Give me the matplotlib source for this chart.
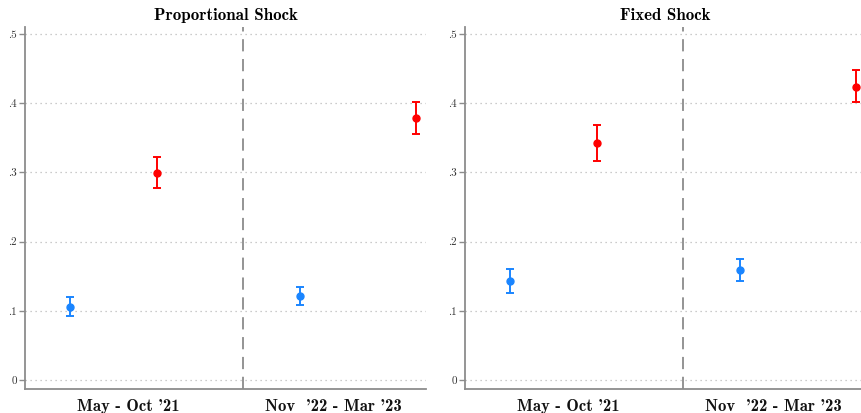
import matplotlib.pyplot as plt
import numpy as np

# estimates
panels = ['Proportional Shock', 'Fixed Shock']
periods = ['May - Oct \'21', 'Nov  \'22 - Mar \'23']

blue_est = [[0.106, 0.121], [0.143, 0.159]]
blue_lo = [[0.092, 0.109], [0.126, 0.143]]
blue_hi = [[0.120, 0.134], [0.161, 0.175]]

red_est = [[0.299, 0.379], [0.343, 0.424]]
red_lo = [[0.277, 0.356], [0.317, 0.401]]
red_hi = [[0.322, 0.401], [0.369, 0.448]]

yticks = [0, 0.1, 0.2, 0.3, 0.4, 0.5]
ytick_labels = ['0', '.1', '.2', '.3', '.4', '.5']

# x layout (axes fraction)
blue_x = [0.112, 0.687]
red_x = [0.329, 0.975]
label_x = [0.257, 0.77]
split_x = 0.543

blue = '#1a85ff'
red = '#ff0000'
spine_col = '#8c8c8c'

fig = plt.figure(figsize=(8.61, 4.13), dpi=100)
W, H = 861, 413
lefts = [25, 465]

for i, name in enumerate(panels):
    ax = fig.add_axes([lefts[i] / W, (H - 389) / H, 401 / W, (389 - 27) / H])
    ax.set_xlim(0, 1)
    ax.set_ylim(-0.013, 0.51)

    be = np.array(blue_est[i])
    ax.errorbar(blue_x, be, yerr=[be - np.array(blue_lo[i]), np.array(blue_hi[i]) - be],
                fmt='o', color=blue, ms=5, capsize=3, elinewidth=1.4, capthick=1.4)
    re = np.array(red_est[i])
    ax.errorbar(red_x, re, yerr=[re - np.array(red_lo[i]), np.array(red_hi[i]) - re],
                fmt='o', color=red, ms=5, capsize=3, elinewidth=1.4, capthick=1.4,
                clip_on=False)

    ax.axvline(split_x, color='#777777', lw=1.1, ls=(0, (8, 5)))
    for y in yticks:
        ax.axhline(y, color='#bbbbbb', lw=0.9, ls=(0, (1, 3)), zorder=0)

    ax.set_yticks(yticks)
    ax.set_yticklabels(ytick_labels, family='cmr10', fontsize=8, color='#333333')
    ax.set_xticks(label_x)
    ax.set_xticklabels(periods, family='cmb10', fontsize=12, color='#111111')
    ax.tick_params(axis='y', length=4, color=spine_col, width=1, pad=2)
    ax.tick_params(axis='x', length=0, pad=7)

    for s in ['top', 'right']:
        ax.spines[s].set_visible(False)
    for s in ['left', 'bottom']:
        ax.spines[s].set_color(spine_col)
        ax.spines[s].set_linewidth(1.3)

    ax.set_title(name, family='cmb10', fontsize=12.2, pad=5)

fig.savefig('out.png', dpi=100)
